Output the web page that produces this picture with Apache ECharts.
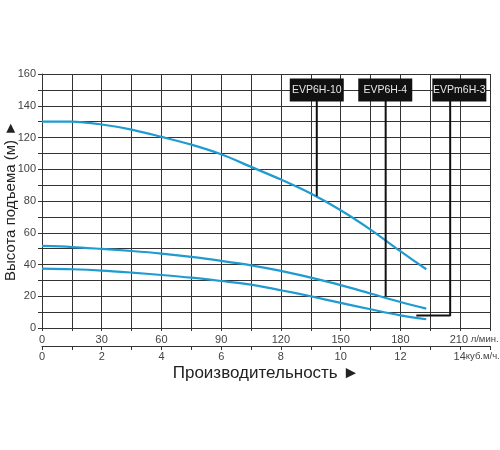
<!DOCTYPE html>
<html>
<head>
<meta charset="utf-8">
<script src="https://cdn.jsdelivr.net/npm/echarts@6/dist/echarts.min.js"></script>
<style>
  html, body { margin: 0; padding: 0; background: #fff; }
  #main { width: 500px; height: 450px; }
</style>
</head>
<body>
<div id="main"></div>
<script>
// подача, л/мин
var flowLpm = [0, 15, 30, 45, 60, 75, 90, 105, 120, 135, 150, 165, 180, 193];
// напор, м
var headEVP6H10 = [130, 130, 128.2, 125, 120.4, 115.5, 109.4, 101.5, 93.5, 84.7, 74.2, 62, 48.4, 37];
var headEVP6H4 = [51.7, 51, 49.8, 48.5, 46.9, 44.8, 42.3, 39.5, 36, 31.7, 27, 21.7, 16.4, 12.2];
var headEVPm6H3 = [37.4, 37, 36.2, 34.9, 33.4, 31.7, 29.6, 27.3, 23.8, 20, 15.8, 11.8, 8, 5.5];

// подписи моделей и выноски
var modelNames = ['EVP6H-10', 'EVP6H-4', 'EVPm6H-3'];
var boxFlow = [138, 172.4, 209.6];
var boxHead = 150;
var leader1 = [[138, 150], [138, 83]];
var leader2 = [[172.6, 150], [172.6, 20]];
var leader3 = [[205, 150], [205, 7.8], [188, 7.8]];

var blue = '#1f9bd1';
var gridColor = '#333';
var font = 'Liberation Sans, Arial, sans-serif';

function zip(xs, ys) {
    return xs.map(function (x, i) { return [x, ys[i]]; });
}

var myChart = echarts.init(document.getElementById('main'));

var option = {
    animation: false,
    textStyle: { fontFamily: font },
    grid: { left: 42, right: 10, top: 74, bottom: 122, containLabel: false, outerBoundsMode: 'none' },
    xAxis: [
        {
            type: 'value',
            min: 0, max: 225, interval: 15,
            axisLine: { show: true, lineStyle: { color: gridColor } },
            axisTick: { show: true, length: 3, lineStyle: { color: gridColor } },
            splitLine: { show: true, lineStyle: { color: gridColor, width: 1 } },
            axisLabel: {
                color: '#444', fontSize: 11, margin: 6,
                formatter: function (v) {
                    if (v === 210) return '{p|}210{u| л/мин.}';
                    return v % 30 === 0 ? String(v) : '';
                },
                rich: {
                    p: { width: 28 },
                    u: { fontSize: 9.5, color: '#444' }
                }
            }
        },
        {
            type: 'value',
            position: 'bottom',
            offset: 18,
            min: 0, max: 15, interval: 1,
            axisLine: { show: true, lineStyle: { color: gridColor } },
            axisTick: { show: true, length: 4, lineStyle: { color: gridColor } },
            splitLine: { show: false },
            axisLabel: {
                color: '#444', fontSize: 11, margin: 5,
                formatter: function (v) {
                    if (v === 14) return '{p|}14{u|куб.м/ч.}';
                    return v % 2 === 0 ? String(v) : '';
                },
                rich: {
                    p: { width: 33 },
                    u: { fontSize: 9.5, color: '#444' }
                }
            },
            name: 'Производительность ►',
            nameLocation: 'middle',
            nameGap: 19,
            nameMoveOverlap: false,
            nameTextStyle: { fontSize: 17, color: '#222' }
        }
    ],
    yAxis: {
        type: 'value',
        min: 0, max: 160, interval: 10,
        axisLine: { show: true, lineStyle: { color: gridColor } },
        axisTick: { show: true, length: 4, lineStyle: { color: gridColor } },
        splitLine: { show: true, lineStyle: { color: gridColor, width: 1 } },
        axisLabel: {
            color: '#444', fontSize: 11, margin: 6,
            formatter: function (v) { return v % 20 === 0 ? String(v) : ''; }
        },
        name: 'Высота подъема (м) ►',
        nameLocation: 'middle',
        nameGap: 24,
        nameMoveOverlap: false,
        nameTextStyle: { fontSize: 15, color: '#222' }
    },
    series: [
        {
            name: 'EVP6H-10', type: 'line', smooth: 0.3, symbol: 'none',
            lineStyle: { color: blue, width: 2.2 },
            data: zip(flowLpm, headEVP6H10)
        },
        {
            name: 'EVP6H-4', type: 'line', smooth: 0.3, symbol: 'none',
            lineStyle: { color: blue, width: 2.2 },
            data: zip(flowLpm, headEVP6H4)
        },
        {
            name: 'EVPm6H-3', type: 'line', smooth: 0.3, symbol: 'none',
            lineStyle: { color: blue, width: 2.2 },
            data: zip(flowLpm, headEVPm6H3)
        },
        // выноски
        { type: 'line', symbol: 'none', lineStyle: { color: '#111', width: 2 }, data: leader1, z: 3 },
        { type: 'line', symbol: 'none', lineStyle: { color: '#111', width: 2 }, data: leader2, z: 3 },
        { type: 'line', symbol: 'none', lineStyle: { color: '#111', width: 2 }, data: leader3, z: 3 },
        {
            type: 'scatter',
            symbol: 'rect',
            symbolSize: [54, 23],
            itemStyle: { color: '#111', opacity: 1 },
            z: 4,
            label: {
                show: true, position: 'inside',
                color: '#e6e6e6', fontSize: 10.5,
                formatter: function (p) { return p.value[2]; }
            },
            data: modelNames.map(function (n, i) { return [boxFlow[i], boxHead, n]; })
        }
    ]
};

myChart.setOption(option);
</script>
</body>
</html>
